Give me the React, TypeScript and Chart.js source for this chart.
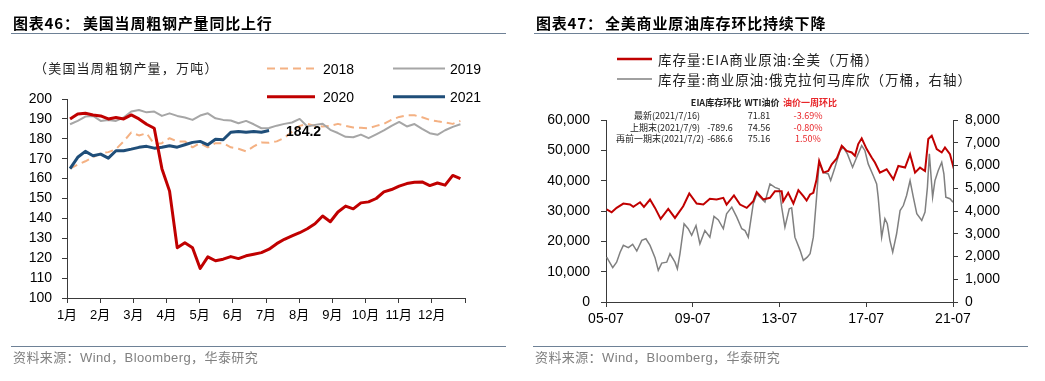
import React, { useEffect, useRef } from "react";
import { Chart, registerables } from "chart.js";

Chart.register(...registerables);

// ---------- Left chart data (weekly US crude steel output, 万吨) ----------
const monthLabels = ["1月", "2月", "3月", "4月", "5月", "6月", "7月", "8月", "9月", "10月", "11月", "12月"];
const steelYears = ["2018", "2019", "2020", "2021"];
const steel2018 = [165, 167, 168.7, 170.7, 172.8, 173.3, 174.8, 178.7, 183.2, 181.7, 182.8, 177.3, 177.8, 180.3, 178.7, 178.7, 175.7, 177.8, 175.7, 177.8, 177.8, 175.7, 175, 173.7, 176.2, 178.2, 178, 178.7, 180.5, 183.5, 186.5, 187.5, 186.5, 186.2, 186.5, 187.5, 186.5, 185.7, 185.5, 185.3, 186.5, 187.5, 189.5, 191, 191.8, 191.8, 190.8, 189.5, 188.8, 188.2, 187.5, 189];
const steel2019 = [187.3, 189, 191.2, 191.5, 189, 189.5, 189, 190.7, 193.7, 194.5, 193.3, 193.7, 191.5, 192.8, 191.5, 190.7, 189.5, 191.7, 192.8, 190.3, 189.5, 189.2, 187.8, 189, 187.3, 185.3, 185.4, 186.6, 187.5, 188.2, 190, 186.2, 187, 187.6, 184.5, 182.9, 181, 180.8, 182.1, 180.3, 182.2, 184.2, 186.5, 188.5, 186.2, 187.4, 185, 182.8, 182, 184.3, 186, 187.3];
const steel2020 = [190, 192.5, 192.8, 192, 191.5, 190, 190.7, 190, 192, 190, 187.3, 185.3, 165, 153.7, 125.3, 127.8, 125.3, 114.8, 120.7, 118.7, 119.5, 120.8, 119.8, 121.2, 122, 122.8, 124.5, 127.3, 129.5, 131.2, 132.8, 134.8, 137.3, 141.2, 138.3, 143.2, 146.2, 144.8, 147.8, 148.3, 150, 153.3, 154.5, 156.2, 157.5, 158.2, 158.3, 156.5, 157.8, 156.7, 161.6, 160];
const steel2021 = [165, 170.7, 173.7, 171.5, 172.3, 170.3, 174, 174, 174.8, 175.7, 176.2, 175.3, 175.8, 176.5, 175.8, 177, 178.2, 178.7, 177, 179.8, 179.5, 183.3, 183.7, 183.3, 183.7, 183.3, 184.2];

// ---------- Right chart data (crude inventories, 万桶) ----------
const oilTickLabels = ["05-07", "09-07", "13-07", "17-07", "21-07"];
const eiaDates = [2005.53, 2005.76, 2005.99, 2006.3, 2006.61, 2006.76, 2007.07, 2007.25, 2007.53, 2007.76, 2008.02, 2008.37, 2008.68, 2009.06, 2009.34, 2009.68, 2009.99, 2010.29, 2010.6, 2010.91, 2011.06, 2011.4, 2011.68, 2011.99, 2012.29, 2012.45, 2012.75, 2013.06, 2013.29, 2013.6, 2013.67, 2013.9, 2014.14, 2014.37, 2014.6, 2014.75, 2014.91, 2015.06, 2015.21, 2015.33, 2015.52, 2015.75, 2015.91, 2016.14, 2016.37, 2016.6, 2016.83, 2016.98, 2017.13, 2017.29, 2017.52, 2017.75, 2017.9, 2018.13, 2018.44, 2018.75, 2018.98, 2019.29, 2019.52, 2019.75, 2019.98, 2020.21, 2020.36, 2020.52, 2020.75, 2020.98, 2021.13, 2021.36, 2021.54];
const eiaValues = [30500, 29570, 31030, 32460, 32130, 31360, 32890, 31360, 33790, 31030, 27380, 30700, 27710, 31560, 35780, 32460, 32130, 34020, 33790, 34350, 32130, 35120, 32130, 31030, 33220, 36210, 33790, 34350, 36540, 36540, 33220, 36010, 32460, 36880, 34880, 33450, 35450, 36010, 40430, 46510, 42660, 43190, 45410, 47300, 51490, 49830, 49300, 48170, 52060, 53950, 50400, 47640, 45980, 42660, 43760, 40430, 44850, 44320, 48740, 42660, 44320, 43190, 53720, 54820, 50400, 49300, 50960, 48740, 43900];
const cushingDates = [2005.53, 2005.81, 2005.99, 2006.15, 2006.3, 2006.53, 2006.73, 2006.92, 2007.15, 2007.34, 2007.53, 2007.76, 2007.91, 2008.07, 2008.3, 2008.45, 2008.68, 2008.79, 2008.91, 2009.1, 2009.29, 2009.45, 2009.65, 2009.83, 2010.06, 2010.29, 2010.48, 2010.68, 2010.91, 2011.06, 2011.3, 2011.53, 2011.76, 2011.91, 2012.06, 2012.29, 2012.45, 2012.68, 2012.83, 2013.06, 2013.29, 2013.49, 2013.6, 2013.75, 2013.95, 2014.06, 2014.21, 2014.45, 2014.6, 2014.78, 2014.91, 2015.06, 2015.21, 2015.33, 2015.52, 2015.75, 2015.86, 2016.06, 2016.29, 2016.44, 2016.63, 2016.87, 2017.06, 2017.29, 2017.44, 2017.59, 2017.82, 2017.98, 2018.05, 2018.13, 2018.21, 2018.36, 2018.47, 2018.59, 2018.72, 2018.9, 2019.06, 2019.21, 2019.36, 2019.52, 2019.67, 2019.83, 2020.06, 2020.21, 2020.32, 2020.41, 2020.56, 2020.67, 2020.82, 2020.98, 2021.08, 2021.17, 2021.36, 2021.5, 2021.54];
const cushingValues = [1970, 1510, 1750, 2190, 2490, 2390, 2530, 2240, 2710, 2780, 2490, 1950, 1390, 1710, 1750, 2120, 1750, 1460, 2120, 3440, 3220, 2930, 3360, 2560, 3140, 2850, 3760, 3610, 3220, 3880, 4170, 3730, 3220, 3140, 2850, 4320, 4750, 4540, 4390, 5190, 5040, 4970, 4170, 3290, 4100, 4140, 2850, 2270, 1830, 1970, 2120, 2850, 4610, 6140, 5700, 5630, 5340, 5920, 6650, 6800, 6510, 5920, 6360, 6870, 6650, 6070, 5560, 5190, 4610, 3730, 2850, 3660, 3440, 2710, 2190, 3000, 4020, 4240, 4680, 5340, 4610, 3880, 3580, 3950, 5040, 6510, 4610, 5340, 5780, 6140, 5630, 4610, 4540, 4390, 4020];

// ---------- Inset table ----------
const tableHeader = ["EIA库存环比", "WTI油价", "油价一周环比"];
const tableRowLabels = ["最新(2021/7/16)", "上期末(2021/7/9)", "再前一期末(2021/7/2)"];
const tableEia = ["", "-789.6", "-686.6"];
const tableWti = ["71.81", "74.56", "75.16"];
const tablePct = ["-3.69%", "-0.80%", "1.50%"];

const LATIN = '"Liberation Sans", Arial, "Noto Sans CJK SC", sans-serif';
const CJK = '"Noto Sans CJK SC", "Liberation Sans", sans-serif';
const AXIS_COLOR = "#3a3a3a";

const lastValueLabel = {
  id: "lastValueLabel",
  afterDatasetsDraw(chart: any) {
    const idx = chart.data.datasets.findIndex((d: any) => d.label === "2021");
    if (idx < 0) return;
    const meta = chart.getDatasetMeta(idx);
    const pt = meta.data[meta.data.length - 1];
    const ds = chart.data.datasets[idx];
    const v = ds.data[ds.data.length - 1].y;
    const ctx = chart.ctx;
    ctx.save();
    ctx.font = "bold 14px " + LATIN;
    ctx.fillStyle = "#000";
    ctx.textBaseline = "middle";
    ctx.textAlign = "left";
    ctx.fillText(v.toFixed(1), pt.x + 17, pt.y + 2);
    ctx.restore();
  },
};

function SteelChart() {
  const ref = useRef<HTMLCanvasElement>(null);
  useEffect(() => {
    const toPts = (arr: number[]) => arr.map((v, i) => ({ x: i + 0.4, y: v }));
    const monthTicks = Array.from({ length: 13 }, (_, i) => (i * 52) / 12);
    const series = [steel2018, steel2019, steel2020, steel2021];
    const styles = [
      { borderColor: "#F4B183", borderWidth: 2, borderDash: [8, 5], order: 3 },
      { borderColor: "#A6A6A6", borderWidth: 2, order: 2 },
      { borderColor: "#C00000", borderWidth: 3, order: 0 },
      { borderColor: "#1F4E79", borderWidth: 3, order: 1 },
    ];
    const chart = new Chart(ref.current!, {
      type: "line",
      data: {
        datasets: series.map((s, i) => ({
          label: steelYears[i],
          data: toPts(s),
          pointRadius: 0,
          tension: 0,
          borderJoinStyle: "round",
          ...styles[i],
        })) as any,
      },
      options: {
        responsive: false,
        animation: false,
        layout: { padding: { left: 0, right: 55, top: 99, bottom: 53 } },
        plugins: { legend: { display: false }, tooltip: { enabled: false } },
        scales: {
          x: {
            type: "linear",
            min: 0,
            max: 52,
            afterBuildTicks: (s: any) => {
              s.ticks = monthTicks.map((v) => ({ value: v }));
            },
            afterFit: (s: any) => {
              s.height = 30;
            },
            grid: { drawOnChartArea: false, drawTicks: true, tickLength: 5, color: AXIS_COLOR },
            border: { display: true, color: AXIS_COLOR },
            ticks: {
              autoSkip: false,
              maxRotation: 0,
              padding: 5,
              color: "#000",
              font: { family: LATIN, size: 13 },
              callback: (_v: any, i: number) => monthLabels[i] ?? "",
            },
          },
          y: {
            min: 100,
            max: 200,
            afterFit: (s: any) => {
              s.width = 67;
            },
            grid: { drawOnChartArea: false, drawTicks: true, tickLength: 5, color: AXIS_COLOR },
            border: { display: true, color: AXIS_COLOR },
            ticks: { stepSize: 10, padding: 10, color: "#000", font: { family: LATIN, size: 14 } },
          },
        },
      } as any,
      plugins: [lastValueLabel],
    });
    return () => chart.destroy();
  }, []);
  return <canvas ref={ref} width={520} height={381} style={{ position: "absolute", left: 0, top: 0 }} />;
}

function OilChart() {
  const ref = useRef<HTMLCanvasElement>(null);
  useEffect(() => {
    const tickValues = oilTickLabels.map((l) => {
      const [yy, mm] = l.split("-").map(Number);
      return 2000 + yy + (mm - 1) / 12;
    });
    const fmt = (v: number) => String(Math.round(v)).replace(/\B(?=(\d{3})+(?!\d))/g, ",");
    const chart = new Chart(ref.current!, {
      type: "line",
      data: {
        datasets: [
          {
            label: "库存量:EIA商业原油:全美（万桶）",
            data: eiaDates.map((d, i) => ({ x: d, y: eiaValues[i] })),
            borderColor: "#C00000",
            borderWidth: 2,
            pointRadius: 0,
            tension: 0,
            yAxisID: "y",
            order: 0,
          },
          {
            label: "库存量:商业原油:俄克拉何马库欣（万桶，右轴）",
            data: cushingDates.map((d, i) => ({ x: d, y: cushingValues[i] })),
            borderColor: "#808080",
            borderWidth: 1.5,
            pointRadius: 0,
            tension: 0,
            yAxisID: "y1",
            order: 1,
          },
        ],
      },
      options: {
        responsive: false,
        animation: false,
        layout: { padding: { left: 0, right: 32, top: 120, bottom: 49 } },
        plugins: { legend: { display: false }, tooltip: { enabled: false } },
        scales: {
          x: {
            type: "linear",
            min: tickValues[0],
            max: tickValues[tickValues.length - 1],
            afterBuildTicks: (s: any) => {
              s.ticks = tickValues.map((v) => ({ value: v }));
            },
            afterFit: (s: any) => {
              s.height = 30;
            },
            grid: { drawOnChartArea: false, drawTicks: true, tickLength: 5, color: AXIS_COLOR },
            border: { display: true, color: AXIS_COLOR },
            ticks: {
              autoSkip: false,
              maxRotation: 0,
              padding: 4,
              color: "#000",
              font: { family: LATIN, size: 14 },
              callback: (_v: any, i: number) => oilTickLabels[i] ?? "",
            },
          },
          y: {
            position: "left",
            min: 0,
            max: 60000,
            afterFit: (s: any) => {
              s.width = 86;
            },
            grid: { drawOnChartArea: false, drawTicks: true, tickLength: 5, color: AXIS_COLOR },
            border: { display: true, color: AXIS_COLOR },
            ticks: { stepSize: 10000, padding: 11, color: "#000", font: { family: LATIN, size: 14 }, callback: (v: any) => fmt(v) },
          },
          y1: {
            position: "right",
            min: 0,
            max: 8000,
            afterFit: (s: any) => {
              s.width = 60;
            },
            grid: { drawOnChartArea: false, drawTicks: true, tickLength: 5, color: AXIS_COLOR },
            border: { display: true, color: AXIS_COLOR },
            ticks: { stepSize: 1000, padding: 7, color: "#000", font: { family: LATIN, size: 14 }, callback: (v: any) => fmt(v) },
          },
        },
      } as any,
    });
    return () => chart.destroy();
  }, []);
  return <canvas ref={ref} width={525} height={381} style={{ position: "absolute", left: 520, top: 0 }} />;
}

const abs = (left: number, top: number, extra: React.CSSProperties = {}): React.CSSProperties => ({
  position: "absolute",
  left,
  top,
  whiteSpace: "nowrap",
  ...extra,
});

function Title({ left, num, text, textLeft }: { left: number; num: string; text: string; textLeft: number }) {
  const st: React.CSSProperties = { fontFamily: CJK, fontWeight: 700, fontSize: 15, lineHeight: "18px", color: "#000", letterSpacing: 0.8 };
  return (
    <>
      <div style={abs(left, 14, st)}>{num}</div>
      <div style={abs(textLeft, 14, st)}>{text}</div>
      <div style={abs(left - 2, 33, { width: 495, height: 1, background: "#6E8196" })} />
    </>
  );
}

function Footer({ left }: { left: number }) {
  return (
    <>
      <div style={abs(left - 2, 346, { width: 495, height: 1, background: "#6E8196" })} />
      <div style={abs(left, 349, { fontFamily: LATIN, fontSize: 13, lineHeight: "18px", color: "#808080", letterSpacing: 0.4 })}>
        资料来源：Wind，Bloomberg，华泰研究
      </div>
    </>
  );
}

export default function App() {
  const legendText: React.CSSProperties = { fontFamily: LATIN, fontSize: 14, lineHeight: "16px", color: "#000" };
  const oilLegendText: React.CSSProperties = { fontFamily: CJK, fontSize: 13.5, lineHeight: "16px", color: "#222", letterSpacing: 1 };
  const tbl: React.CSSProperties = { fontFamily: CJK, fontSize: 9, lineHeight: "11px", color: "#222" };
  const rowY = [115, 127, 138.5];
  const center = (x: number, y: number, extra: React.CSSProperties = {}): React.CSSProperties =>
    abs(x, y - 5.5, { transform: "translateX(-50%)", ...tbl, ...extra });
  return (
    <div style={{ position: "fixed", left: 0, top: 0, width: 1045, height: 381, background: "#fff", overflow: "hidden" }}>
      <SteelChart />
      <OilChart />

      {/* Left panel texts */}
      <Title left={13} num="图表46：" text="美国当周粗钢产量同比上行" textLeft={83} />
      <div style={abs(34, 60, { fontFamily: CJK, fontSize: 13, lineHeight: "16px", color: "#222", letterSpacing: 1.2 })}>
        （美国当周粗钢产量，万吨）
      </div>
      <svg width={520} height={110} style={{ position: "absolute", left: 0, top: 0 }}>
        <line x1={267} y1={68.5} x2={315} y2={68.5} stroke="#F4B183" strokeWidth={2} strokeDasharray="8 5" />
        <line x1={393} y1={68.5} x2={445} y2={68.5} stroke="#A6A6A6" strokeWidth={2} />
        <line x1={267} y1={96.7} x2={315} y2={96.7} stroke="#C00000" strokeWidth={3} />
        <line x1={393} y1={96.7} x2={445} y2={96.7} stroke="#1F4E79" strokeWidth={3} />
      </svg>
      <div style={abs(323, 60.5, legendText)}>{steelYears[0]}</div>
      <div style={abs(450, 60.5, legendText)}>{steelYears[1]}</div>
      <div style={abs(323, 88.7, legendText)}>{steelYears[2]}</div>
      <div style={abs(450, 88.7, legendText)}>{steelYears[3]}</div>
      <Footer left={13} />

      {/* Right panel texts */}
      <Title left={536} num="图表47：" text="全美商业原油库存环比持续下降" textLeft={605} />
      <svg width={60} height={100} style={{ position: "absolute", left: 600, top: 0 }}>
        <line x1={17} y1={59} x2={52} y2={59} stroke="#C00000" strokeWidth={2.5} />
        <line x1={17} y1={79} x2={52} y2={79} stroke="#808080" strokeWidth={1.5} />
      </svg>
      <div style={abs(658, 51, oilLegendText)}>库存量:EIA商业原油:全美（万桶）</div>
      <div style={abs(658, 71, oilLegendText)}>库存量:商业原油:俄克拉何马库欣（万桶，右轴）</div>

      {/* Inset table */}
      <div style={center(716, 102, { fontWeight: 700 })}>{tableHeader[0]}</div>
      <div style={center(762, 102, { fontWeight: 700 })}>{tableHeader[1]}</div>
      <div style={center(810, 102, { fontWeight: 700, color: "#E8262A" })}>{tableHeader[2]}</div>
      <div style={{ position: "absolute", left: 616, top: 100, width: 90, height: 50, overflow: "hidden" }}>
        {tableRowLabels.map((t, i) => (
          <div key={t} style={abs(0, rowY[i] - 5.5 - 100, { ...tbl, width: 84, textAlign: "right" })}>
            {t}
          </div>
        ))}
      </div>
      {tableEia.map((t, i) => (t ? <div key={"e" + i} style={center(720, rowY[i])}>{t}</div> : null))}
      {tableWti.map((t, i) => (
        <div key={"w" + i} style={center(759, rowY[i])}>{t}</div>
      ))}
      {tablePct.map((t, i) => (
        <div key={"p" + i} style={center(808, rowY[i], { color: "#E8262A" })}>{t}</div>
      ))}
      <Footer left={535} />
    </div>
  );
}
